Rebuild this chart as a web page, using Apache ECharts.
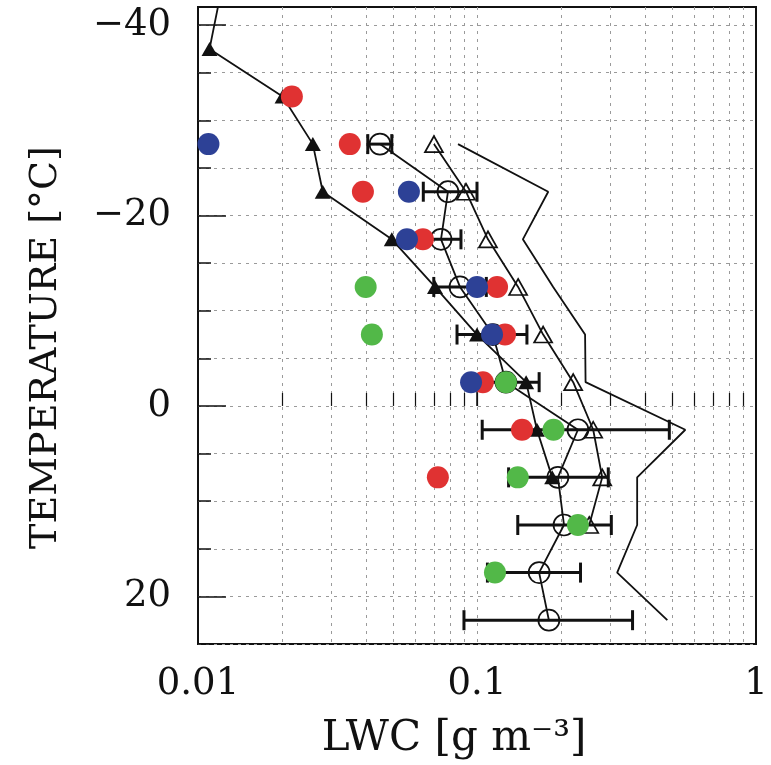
<!DOCTYPE html>
<html>
<head>
<meta charset="utf-8">
<script src="https://cdn.jsdelivr.net/npm/echarts@6/dist/echarts.min.js"></script>
<style>
html,body{margin:0;padding:0;background:#fff;}
#chart{width:771px;height:765px;}
</style>
</head>
<body>
<div id="chart"></div>
<script>
// ---- data (LWC in g m^-3, temperature in degC) ----
const tempFilledTri = [-42.5, -37.5, -32.5, -27.5, -22.5, -17.5, -12.5, -7.5, -2.5, 2.5, 7.5];
const lwcFilledTri  = [0.0119, 0.0110, 0.0201, 0.0258, 0.0280, 0.0495, 0.0707, 0.100, 0.150, 0.164, 0.186];

const tempOpenCirc = [-27.5, -22.5, -17.5, -12.5, -7.5, -2.5, 2.5, 7.5, 12.5, 17.5, 22.5];
const lwcOpenCirc  = [0.0449, 0.0787, 0.0743, 0.0869, 0.114, 0.127, 0.230, 0.195, 0.205, 0.167, 0.181];
const lwcOpenCircLo = [0.0406, 0.0642, 0.063, 0.070, 0.0848, 0.095, 0.1044, 0.1298, 0.140, 0.109, 0.0898];
const lwcOpenCircHi = [0.0495, 0.100, 0.0876, 0.108, 0.151, 0.167, 0.489, 0.2955, 0.303, 0.235, 0.361];

const tempOpenTri = [-27.5, -22.5, -17.5, -12.5, -7.5, -2.5, 2.5, 7.5, 12.5];
const lwcOpenTri  = [0.0701, 0.0913, 0.1095, 0.1404, 0.1726, 0.2212, 0.2609, 0.2811, 0.2525];

const tempPlain = [-27.5, -22.5, -17.5, -12.5, -7.5, -2.5, 2.5, 7.5, 12.5, 17.5, 22.5];
const lwcPlain  = [0.0855, 0.180, 0.146, 0.1875, 0.244, 0.245, 0.558, 0.375, 0.375, 0.318, 0.481];

const tempRed = [-32.5, -27.5, -22.5, -17.5, -12.5, -7.5, -2.5, 2.5, 7.5];
const lwcRed  = [0.0217, 0.0350, 0.0390, 0.0640, 0.118, 0.126, 0.105, 0.145, 0.0724];

const tempBlue = [-27.5, -22.5, -17.5, -12.5, -7.5, -2.5];
const lwcBlue  = [0.0109, 0.0570, 0.0561, 0.100, 0.1132, 0.0952];

const tempGreen = [-12.5, -7.5, -2.5, 2.5, 7.5, 12.5, 17.5];
const lwcGreen  = [0.0399, 0.0420, 0.127, 0.188, 0.140, 0.230, 0.116];

// tick values
const xMinorTicks = [0.02,0.03,0.04,0.05,0.06,0.07,0.08,0.09,0.1,0.2,0.3,0.4,0.5,0.6,0.7,0.8,0.9];
const xMajorTicks = [0.01, 0.1, 1];
const yMinorTicks = [-40,-35,-30,-25,-20,-15,-10,-5,0,5,10,15,20,25];
const yMajorTicks = [-40, -20, 0, 20];

const pairs = (xs, ys) => xs.map((x, i) => [x, ys[i]]);

const FONT = 'DejaVu Serif';
const gridLine = {show: true, lineStyle: {color: '#9a9a9a', width: 1, type: [3, 5]}};

const chart = echarts.init(document.getElementById('chart'));
chart.setOption({
  animation: false,
  backgroundColor: '#fff',
  grid: {left: 198, right: 15, top: 7, bottom: 120, show: true, borderColor: '#111', borderWidth: 2, backgroundColor: 'transparent'},
  xAxis: [
    {type: 'log', min: 0.01, max: 1, logBase: 10,
     axisLine: {show: false},
     axisTick: {show: true, inside: true, length: 13, customValues: xMinorTicks, lineStyle: {color: '#111', width: 1.2}},
     axisLabel: {show: false},
     splitLine: gridLine},
    {type: 'log', min: 0.01, max: 1, logBase: 10, position: 'bottom',
     axisLine: {show: false},
     axisTick: {show: true, inside: true, length: 28, customValues: xMajorTicks, lineStyle: {color: '#111', width: 1.5}},
     axisLabel: {show: true, customValues: xMajorTicks, margin: 22, fontFamily: FONT, fontSize: 37, color: '#111',
                 formatter: v => String(v)},
     splitLine: {show: false},
     name: 'LWC [g m\u207B\u00B3]', nameLocation: 'middle', nameGap: 74,
     nameTextStyle: {fontFamily: FONT, fontSize: 42, color: '#111', padding: [0, 46, 0, 0]}}
  ],
  yAxis: [
    {type: 'value', min: -41.9, max: 25, inverse: true,
     axisLine: {show: false},
     axisTick: {show: true, inside: true, length: 13, customValues: yMinorTicks, lineStyle: {color: '#111', width: 1.5}},
     axisLabel: {show: false},
     splitLine: gridLine},
    {type: 'value', min: -41.9, max: 25, inverse: true, position: 'left',
     axisLine: {show: false},
     axisTick: {show: true, inside: true, length: 28, customValues: yMajorTicks, lineStyle: {color: '#111', width: 1.5}},
     axisLabel: {show: true, customValues: yMajorTicks, margin: 27, fontFamily: FONT, fontSize: 37, color: '#111',
                 formatter: v => (v < 0 ? '\u2212' + Math.abs(v) : String(v))},
     splitLine: {show: false},
     name: 'TEMPERATURE [\u00B0C]', nameLocation: 'middle', nameGap: 133,
     nameTextStyle: {fontFamily: FONT, fontSize: 38, color: '#111', padding: [0, 44, 0, 0]}}
  ],
  series: [
    {type: 'line', name: 'plain', data: pairs(lwcPlain, tempPlain), showSymbol: false, symbol: 'none',
     lineStyle: {color: '#111', width: 1.8}, z: 2},
    {type: 'line', name: 'openTri', data: pairs(lwcOpenTri, tempOpenTri), symbol: 'triangle', symbolSize: [18, 16],
     lineStyle: {color: '#111', width: 1.8}, itemStyle: {color: 'rgba(0,0,0,0)', borderColor: '#111', borderWidth: 1.7}, z: 2},
    {type: 'line', name: 'filledTri', data: pairs(lwcFilledTri, tempFilledTri), symbol: 'triangle', symbolSize: [16, 14],
     lineStyle: {color: '#111', width: 1.8}, itemStyle: {color: '#111'}, z: 2},
    {type: 'custom', name: 'errbar', z: 2,
     data: lwcOpenCircLo.map((lo, i) => [lo, lwcOpenCircHi[i], tempOpenCirc[i]]),
     renderItem: function (params, api) {
       const a = api.coord([api.value(0), api.value(2)]);
       const b = api.coord([api.value(1), api.value(2)]);
       const h = 10;
       const st = {stroke: '#111', lineWidth: 3};
       return {type: 'group', children: [
         {type: 'line', shape: {x1: a[0], y1: a[1], x2: b[0], y2: b[1]}, style: st},
         {type: 'line', shape: {x1: a[0], y1: a[1] - h, x2: a[0], y2: a[1] + h}, style: st},
         {type: 'line', shape: {x1: b[0], y1: b[1] - h, x2: b[0], y2: b[1] + h}, style: st}
       ]};
     }},
    {type: 'line', name: 'openCirc', data: pairs(lwcOpenCirc, tempOpenCirc), symbol: 'circle', symbolSize: 21,
     lineStyle: {color: '#111', width: 1.8}, itemStyle: {color: 'rgba(0,0,0,0)', borderColor: '#111', borderWidth: 1.7}, z: 2},
    {type: 'scatter', name: 'red', data: pairs(lwcRed, tempRed), symbolSize: 22, itemStyle: {color: '#e03232', opacity: 1}, z: 3},
    {type: 'scatter', name: 'blue', data: pairs(lwcBlue, tempBlue), symbolSize: 22, itemStyle: {color: '#2d4196', opacity: 1}, z: 3},
    {type: 'scatter', name: 'green', data: pairs(lwcGreen, tempGreen), symbolSize: 22, itemStyle: {color: '#52b848', opacity: 1}, z: 3}
  ]
});
</script>
</body>
</html>
